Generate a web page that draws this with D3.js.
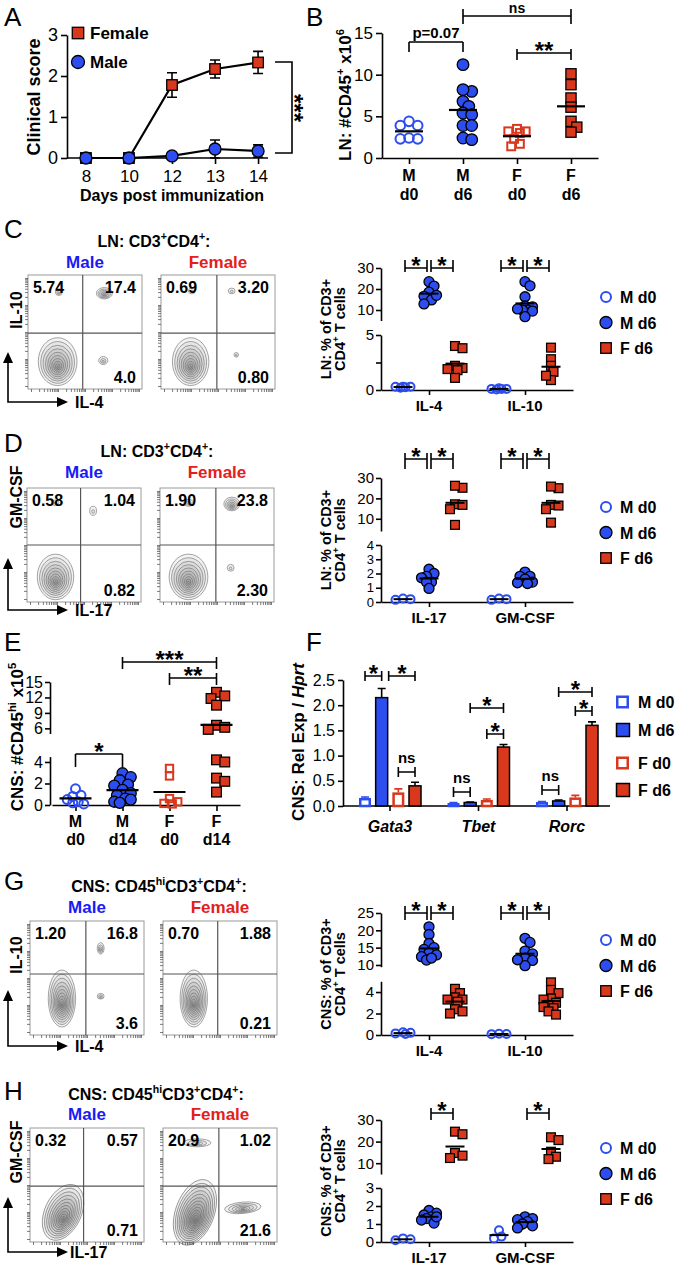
<!DOCTYPE html>
<html><head><meta charset="utf-8">
<script src="https://cdn.jsdelivr.net/npm/d3@7/dist/d3.min.js"></script>
<style>
html,body{margin:0;padding:0;background:#fff;}
svg{display:block;font-family:"Liberation Sans",Arial,Helvetica,sans-serif;}
</style></head><body>
<svg id="fig" width="680" height="1270"></svg>
<script>
// ================= DATA =================
// A: clinical score
const daysA = ["8","10","12","13","14"];
const scoreFemale = [0,0,1.78,2.17,2.33];
const errFemale   = [0,0,0.30,0.22,0.27];
const scoreMale   = [0,0,0.05,0.22,0.17];
const errMale     = [0,0,0,0.22,0.15];
const ticksA = [0,1,2,3];

// B: LN #CD45+ x10^6
const groupsB = ["M d0","M d6","F d0","F d6"];
const lnCD45_Md0 = [3.9,3.9,4.4,2.3,2.3,2.4];
const lnCD45_Md6 = [11.2,8.0,8.2,6.8,6.2,5.4,5.2,3.9,3.9,2.4,2.2];
const lnCD45_Fd0 = [3.5,3.2,3.2,2.3,1.7,1.4,3.0];
const lnCD45_Fd6 = [8.8,10.1,7.2,6.1,4.4,3.7,3.1];
const ticksB = [0,5,10,15];

// C: LN IL-4 / IL-10 (% of CD3+CD4+)
const cytoC = ["IL-4","IL-10"];
const lnTh2_Md0 = [[0.3,0.25,0.3,0.2,0.3],[0.1,0.15,0.1,0.05,0.1]];
const lnTh2_Md6 = [[23.5,21.4,18.5,16.5,14.8,12.9,17],[23.5,21.5,16.3,11.9,11.5,10,10,9.5,6.8,10.5]];
const lnTh2_Fd6 = [[4.0,3.8,2.2,2.0,1.9,1.8,1.1],[3.85,2.8,2.2,1.65,0.9,1.3]];
const flowC_male = ["5.74","17.4","4.0"];
const flowC_female = ["0.69","3.20","0.80"];

// D: LN IL-17 / GM-CSF
const cytoD = ["IL-17","GM-CSF"];
const lnTh17_Md0 = [[0.25,0.2,0.15],[0.25,0.2,0.15]];
const lnTh17_Md6 = [[2.3,2.0,1.8,1.7,1.4,1.4,0.95],[2.1,1.8,1.8,1.6,1.4,1.35,1.3]];
const lnTh17_Fd6 = [[25.2,26.2,17.1,16.8,14.7,7],[25,25.8,16.8,16.5,14.7,8.1]];
const flowD_male = ["0.58","1.04","0.82"];
const flowD_female = ["1.90","23.8","2.30"];

// E: CNS #CD45hi x10^5
const groupsE = ["M d0","M d14","F d0","F d14"];
const cnsCD45_Md0  = [1.5,0.9,0.8,0.5,0.3,0.2,0.1];
const cnsCD45_Md14 = [2.95,2.6,2.3,1.9,1.8,1.4,1.1,0.9,0.6,0.3,0.2,0.5];
const cnsCD45_Fd0  = [3.4,2.7,0.6,0.3,0.15,0.1];
const cnsCD45_Fd14 = [13,12.3,11.8,10.5,6.6,6.2,5.8,4.2,4.0,2.5,2.2,1.2];

// F: CNS relative expression / Hprt
const genesF = ["Gata3","Tbet","Rorc"];
const seriesF = ["M d0","M d6","F d0","F d6"];
const relMd0 = [0.16,0.06,0.08], errRelMd0 = [0.02,0.01,0.01];
const relMd6 = [2.15,0.07,0.10], errRelMd6 = [0.18,0.01,0.02];
const relFd0 = [0.27,0.12,0.17], errRelFd0 = [0.07,0.02,0.04];
const relFd6 = [0.40,1.17,1.60], errRelFd6 = [0.07,0.05,0.07];
const ticksF = [0,0.5,1,1.5,2,2.5];

// G: CNS IL-4 / IL-10
const cytoG = ["IL-4","IL-10"];
const cnsTh2_Md0 = [[0.2,0.15,0.25,0.1],[0.1,0.12,0.08]];
const cnsTh2_Md6 = [[21,18.8,16.2,15,14.5,13.5,12.9,12.4,11.4,12],[17.7,16.5,14,13.2,12,11.3,9.8,11.5]];
const cnsTh2_Fd6 = [[4.3,3.9,3.5,3.3,3.1,2.4,2.2,2.0,3.3],[4.9,4.2,3.9,3.4,3.3,3.0,2.8,2.6,2.5,2.2,1.9]];
const flowG_male = ["1.20","16.8","3.6"];
const flowG_female = ["0.70","1.88","0.21"];

// H: CNS IL-17 / GM-CSF
const cytoH = ["IL-17","GM-CSF"];
const cnsTh17_Md0 = [[0.15,0.1,0.2],[0.65,0.2,0.3]];
const cnsTh17_Md6 = [[1.75,1.6,1.5,1.4,1.3,1.22,1.05,1.4],[1.4,1.3,1.24,1.13,1.0,0.9,0.78]];
const cnsTh17_Fd6 = [[24.6,23.4,14.7,12.4,13.5],[22,20.7,15.3,13,11.9]];
const flowH_male = ["0.32","0.57","0.71"];
const flowH_female = ["20.9","1.02","21.6"];

// flow populations: [x, y (fraction of log axes), spread x, spread y, contour levels, tilt]
const popC_male   = [[0.26,0.24,0.17,0.21,10,0],[0.67,0.84,0.07,0.05,6,0],[0.27,0.85,0.03,0.03,3,0],[0.66,0.25,0.04,0.035,3,0]];
const popC_female = [[0.26,0.24,0.16,0.21,10,0],[0.27,0.86,0.03,0.025,2,0],[0.62,0.86,0.03,0.025,2,0],[0.66,0.30,0.02,0.02,2,0]];
const popD_male   = [[0.25,0.22,0.16,0.2,10,0],[0.25,0.87,0.03,0.025,2,0],[0.58,0.80,0.03,0.04,2,0]];
const popD_female = [[0.25,0.22,0.17,0.2,10,0],[0.25,0.87,0.04,0.03,3,0],[0.63,0.86,0.07,0.06,6,0],[0.62,0.30,0.03,0.03,2,0]];
const popG_male   = [[0.28,0.32,0.12,0.25,11,0],[0.62,0.76,0.03,0.05,4,0],[0.62,0.34,0.03,0.025,3,0]];
const popG_female = [[0.27,0.32,0.12,0.25,11,0]];
const popH_male   = [[0.29,0.26,0.16,0.26,12,25]];
const popH_female = [[0.28,0.26,0.17,0.3,14,20],[0.3,0.87,0.12,0.035,4,0],[0.7,0.30,0.16,0.05,6,-5]];

// ================= HELPERS =================
const FONT='"Liberation Sans", Arial, Helvetica, sans-serif';
const BLUE="#2c4ef0", RED="#d9381d", MALE_C="#1a1af5", FEMALE_C="#e3201b";
const svg=d3.select("#fig");

function T(g,x,y,s,o={}){
  const t=g.append("text").attr("x",x).attr("y",y).text(s)
    .attr("font-size",o.size||15).attr("font-weight",o.weight||"bold")
    .attr("text-anchor",o.anchor||"start").attr("fill",o.fill||"#000");
  if(o.italic) t.attr("font-style","italic");
  if(o.rot!=null) t.attr("transform",`rotate(${o.rot},${x},${y})`);
  return t;
}
function rich(g,x,y,parts,o={}){
  const S=o.size||15;
  const t=g.append("text").attr("x",x).attr("y",y).attr("font-size",S)
    .attr("font-weight",o.weight||"bold").attr("text-anchor",o.anchor||"middle").attr("fill",o.fill||"#000");
  if(o.rot!=null) t.attr("transform",`rotate(${o.rot},${x},${y})`);
  let cur=0;
  parts.forEach(([s,k])=>{
    const sp=t.append("tspan").text(s);
    const want = k==="sup" ? -0.42*S : 0;
    if(want!==cur) sp.attr("dy",want-cur);
    cur=want;
    if(k==="sup") sp.attr("font-size",S*0.66);
    if(k==="it") sp.attr("font-style","italic");
  });
  return t;
}
function styleAxis(a,fs){
  a.attr("font-family",FONT).attr("font-size",fs);
  a.select(".domain").attr("stroke","#000").attr("stroke-width",1.6);
  a.selectAll(".tick line").attr("stroke","#000").attr("stroke-width",1.6);
  a.selectAll(".tick text").attr("fill","#000");
}
function mark(g,type,x,y,r){
  const open=type.startsWith("open");
  const isC=type.toLowerCase().includes("circle");
  const col=isC?BLUE:RED;
  let m;
  if(isC) m=g.append("circle").attr("cx",x).attr("cy",y).attr("r",open?r-1:r);
  else { const h=open?r*0.85-1:r*0.88; m=g.append("rect").attr("x",x-h).attr("y",y-h).attr("width",2*h).attr("height",2*h); }
  m.attr("fill",open?"none":col).attr("stroke",open?col:"#000").attr("stroke-width",open?2:1.3);
}
// compact beeswarm layout: offsets limited to +-maxW, overlaps allowed when crowded
function swarm(vals,yf,r){
  const pts=vals.map(v=>({v,y:yf(v)}));
  const placed=[], maxW=r*1.5, step=r*0.5, minD=r*1.3;
  pts.slice().sort((a,b)=>a.y-b.y).forEach(p=>{
    let best=null,bestD=-1;
    for(let k=0;k<14;k++){
      const dx=(k%2?1:-1)*Math.ceil(k/2)*step;
      if(Math.abs(dx)>maxW) continue;
      const d=placed.length?d3.min(placed,q=>Math.hypot(q.dx-dx,q.y-p.y)):1e9;
      if(d>=minD){best=dx;bestD=d;break;}
      if(d>bestD){bestD=d;best=dx;}
    }
    p.dx=best||0;
    placed.push(p);
  });
  return pts;
}
function bracket(g,x1,x2,y,lab,up,down,o={}){
  g.append("path").attr("d",`M${x1},${y-up}V${y+down}M${x1},${y}H${x2}M${x2},${y-up}V${y+down}`)
    .attr("fill","none").attr("stroke","#000").attr("stroke-width",1.6);
  const cx=(x1+x2)/2;
  if(/^\*+$/.test(lab)) T(g,cx,y+(o.sy??6),lab,{size:o.ss||24,anchor:"middle"});
  else T(g,cx,y-(o.ly??(up+3)),lab,{size:o.ls||15,anchor:"middle"});
}
function brokenY(g,x,segs,fs){
  segs.forEach(s=>{
    s.sc=d3.scaleLinear().domain(s.dom).range(s.rng);
    const fmt=s.fmt?d3.format(s.fmt):(d=>d);
    const a=g.append("g").attr("transform",`translate(${x},0)`)
      .call(d3.axisLeft(s.sc).tickValues(s.ticks).tickSize(5).tickSizeOuter(0)
        .tickFormat(d=>(s.labels||s.ticks).includes(d)?fmt(d):""));
    styleAxis(a,s.fs||fs);
    a.selectAll(".tick text").attr("x",-7);
  });
  const sorted=segs.slice().sort((a,b)=>b.dom[0]-a.dom[0]);
  return v=>{for(const s of sorted) if(v>=s.dom[0]) return s.sc(v); return sorted[sorted.length-1].sc(v);};
}
function groupScatter(g,groups,dataArr,types,xs,yf,r,mw){
  groups.forEach((gr,i)=>{
    swarm(dataArr[i],yf,r).forEach(p=>mark(g,types[i],xs(gr)+p.dx,p.y,r));
  });
  groups.forEach((gr,i)=>{
    const m=yf(d3.mean(dataArr[i]));
    g.append("line").attr("x1",xs(gr)-mw).attr("x2",xs(gr)+mw).attr("y1",m).attr("y2",m).attr("stroke","#000").attr("stroke-width",2.2);
  });
}
function cytoPanel(o){
  const g=svg.append("g");
  const yf=brokenY(g,o.ax,o.segs,15);
  const xc=d3.scalePoint().domain(o.cats).range([o.ax,o.axEnd]).padding(0.5);
  const ser=["M d0","M d6","F d6"], types=["openCircle","circle","square"];
  const xo=d3.scalePoint().domain(ser).range([-26,26]);
  const xa=g.append("g").attr("transform",`translate(0,${o.base})`)
    .call(d3.axisBottom(xc).tickSize(5).tickSizeOuter(0).tickFormat(""));
  styleAxis(xa,15);
  o.cats.forEach(c=>T(g,xc(c),o.base+21,c,{size:15,anchor:"middle"}));
  o.data.forEach((arr,si)=>o.cats.forEach((c,ci)=>{
    const cx=xc(c)+xo(ser[si]);
    swarm(arr[ci],yf,5).forEach(p=>mark(g,types[si],cx+p.dx,p.y,5));
  }));
  o.data.forEach((arr,si)=>o.cats.forEach((c,ci)=>{
    const cx=xc(c)+xo(ser[si]), m=yf(d3.mean(arr[ci]));
    g.append("line").attr("x1",cx-9.5).attr("x2",cx+9.5).attr("y1",m).attr("y2",m).attr("stroke","#000").attr("stroke-width",2);
  }));
  o.brackets.forEach(([ci,a,b,lab])=>{
    const c=o.cats[ci];
    bracket(g,xc(c)+xo(ser[a])+2,xc(c)+xo(ser[b])-2,o.bY,lab,o.bUp,o.bDown);
  });
  ser.forEach((s,i)=>{
    const yy=o.legY+i*25.5;
    mark(g,types[i],606,yy,6);
    T(g,620,yy+6,s,{size:16});
  });
  const mid=(o.segs[0].rng[0]+o.segs[o.segs.length-1].rng[1])/2;
  rich(g,331,mid,o.title1,{size:14.5,rot:-90});
  rich(g,345,mid,o.title2,{size:14.5,rot:-90});
}
function flowPlot(g,x0,y0,nums,pops,qx,qy){
  const w=114,h=114;
  const sx=d3.scaleLinear().domain([0,1]).range([x0,x0+w]);
  const sy=d3.scaleLinear().domain([0,1]).range([y0+h,y0]);
  g.append("rect").attr("x",x0).attr("y",y0).attr("width",w).attr("height",h).attr("fill","#fff");
  pops.forEach(([cx,cy,rx,ry,n,rot])=>{
    d3.range(n,0,-1).forEach(k=>{
      const f=Math.pow(k/n,1.3);
      const px=sx(cx), py=sy(cy-ry*(1-f)*0.25);
      g.append("ellipse").attr("cx",px).attr("cy",py).attr("rx",rx*w*f).attr("ry",ry*h*f)
        .attr("transform",rot?`rotate(${rot},${px},${py})`:null)
        .attr("fill","#5a5a5a").attr("fill-opacity",0.08).attr("stroke","#6a6a6a").attr("stroke-width",0.6);
    });
  });
  g.append("rect").attr("x",x0).attr("y",y0).attr("width",w).attr("height",h).attr("fill","none").attr("stroke","#9a9a9a").attr("stroke-width",1);
  g.append("line").attr("x1",sx(qx)).attr("x2",sx(qx)).attr("y1",y0).attr("y2",y0+h).attr("stroke","#555").attr("stroke-width",1.2);
  g.append("line").attr("x1",x0).attr("x2",x0+w).attr("y1",sy(qy)).attr("y2",sy(qy)).attr("stroke","#555").attr("stroke-width",1.2);
  const lx=d3.scaleLog().domain([10,1e5]).range([x0+3,x0+w-3]);
  const ly=d3.scaleLog().domain([10,1e5]).range([y0+h-3,y0+3]);
  const bx=g.append("g").attr("transform",`translate(0,${y0+h})`).call(d3.axisBottom(lx).tickSize(3).tickFormat(""));
  bx.select(".domain").remove(); bx.selectAll("line").attr("stroke","#444").attr("stroke-width",0.7);
  const by=g.append("g").attr("transform",`translate(${x0},0)`).call(d3.axisLeft(ly).tickSize(3).tickFormat(""));
  by.select(".domain").remove(); by.selectAll("line").attr("stroke","#444").attr("stroke-width",0.7);
  T(g,x0+5,y0+18,nums[0],{size:16});
  T(g,x0+w-6,y0+18,nums[1],{size:16,anchor:"end"});
  T(g,x0+w-6,y0+h-6,nums[2],{size:16,anchor:"end"});
}
function flowArrows(g,xv,yh,tipY,tipX,xlab,xlabX,xlabY,ylab,ylabY){
  g.append("path").attr("d",`M${xv},${tipY+8}V${yh}H${tipX-8}`).attr("fill","none").attr("stroke","#000").attr("stroke-width",1.6);
  g.append("path").attr("d",`M${xv},${tipY}l-5,11h10z`).attr("fill","#000");
  g.append("path").attr("d",`M${tipX},${yh}l-11,-5v10z`).attr("fill","#000");
  T(g,xlabX,xlabY,xlab,{size:16});
  T(g,22,ylabY,ylab,{size:16,rot:-90,anchor:"middle"});
}
function flowBlock(o){
  const g=svg.append("g");
  rich(g,o.tx,o.ty,o.title,{size:16});
  T(g,o.mx+57,o.ly,"Male",{size:17,anchor:"middle",fill:MALE_C});
  T(g,o.fx+57,o.ly,"Female",{size:17,anchor:"middle",fill:FEMALE_C});
  flowPlot(g,o.mx,o.y0,o.mnums,o.mpops,o.mq[0],o.mq[1]);
  flowPlot(g,o.fx,o.y0,o.fnums,o.fpops,o.fq[0],o.fq[1]);
  flowArrows(g,8,o.ay,o.tipY,68,o.xlab,o.xlabX,o.ay+6,o.ylab,o.ylabY);
}
function letter(x,y,s){T(svg,x,y,s,{size:26,weight:"normal"});}

// ================= PANEL A =================
(function(){
  const g=svg.append("g");
  const x=d3.scalePoint().domain(daysA).range([67,277]).padding(0.44);
  const y=d3.scaleLinear().domain([0,3]).range([158,35]);
  const ya=g.append("g").attr("transform","translate(67,0)")
    .call(d3.axisLeft(y).tickValues(ticksA).tickSize(6).tickSizeOuter(0).tickFormat(d3.format("d")));
  styleAxis(ya,18);
  const xa=g.append("g").attr("transform","translate(0,158)").call(d3.axisBottom(x).tickSize(6).tickSizeOuter(0));
  styleAxis(xa,17);
  xa.select(".domain").remove();
  xa.selectAll(".tick text").attr("dy","0.9em");
  g.append("line").attr("x1",67).attr("x2",268).attr("y1",158).attr("y2",158).attr("stroke","#000").attr("stroke-width",1.6);
  const line=d3.line().x((d,i)=>x(daysA[i])).y(d=>y(d));
  const sets=[[scoreFemale,errFemale,"square"],[scoreMale,errMale,"circle"]];
  sets.forEach(([v])=>g.append("path").attr("d",line(v)).attr("fill","none").attr("stroke","#000").attr("stroke-width",2.2));
  sets.forEach(([v,e])=>v.forEach((d,i)=>{
    if(e[i]>0){
      const xx=x(daysA[i]), y1=y(Math.max(0,d-e[i])), y2=y(d+e[i]);
      g.append("path").attr("d",`M${xx},${y1}V${y2}M${xx-5},${y2}H${xx+5}M${xx-5},${y1}H${xx+5}`).attr("stroke","#000").attr("stroke-width",1.6).attr("fill","none");
    }
  }));
  sets.forEach(([v,,t])=>v.forEach((d,i)=>mark(g,t,x(daysA[i]),y(d),6)));
  mark(g,"square",78,33,6.5); T(g,90,39,"Female",{size:17});
  mark(g,"circle",78,62,6.5); T(g,90,68,"Male",{size:17});
  g.append("path").attr("d","M275,62H292V153H275").attr("fill","none").attr("stroke","#000").attr("stroke-width",1.6);
  T(g,286,108,"***",{size:24,anchor:"middle",rot:90});
  rich(g,40,97,[["Clinical score",""]],{size:18,rot:-90});
  T(g,172,201,"Days post immunization",{size:16,anchor:"middle"});
  letter(4,26,"A");
})();

// ================= PANEL B =================
(function(){
  const g=svg.append("g");
  const x=d3.scalePoint().domain(groupsB).range([382,598]).padding(0.5);
  const y=d3.scaleLinear().domain([0,15]).range([158,33]);
  const ya=g.append("g").attr("transform","translate(382,0)").call(d3.axisLeft(y).tickValues(ticksB).tickSize(6).tickSizeOuter(0));
  styleAxis(ya,17);
  const xa=g.append("g").attr("transform","translate(0,158)").call(d3.axisBottom(x).tickSize(6).tickSizeOuter(0).tickFormat(""));
  styleAxis(xa,16);
  groupsB.forEach(gr=>{const [a,b]=gr.split(" ");T(g,x(gr),181,a,{size:16,anchor:"middle"});T(g,x(gr),200,b,{size:16,anchor:"middle"});});
  groupScatter(g,groupsB,[lnCD45_Md0,lnCD45_Md6,lnCD45_Fd0,lnCD45_Fd6],["openCircle","circle","openSquare","square"],x,y,5.8,14);
  bracket(g,x("M d0"),x("M d6"),42,"p=0.07",0,10,{ly:4});
  bracket(g,x("M d6"),x("F d6"),16,"ns",7,8,{ly:3,ls:14});
  bracket(g,x("F d0"),x("F d6"),53,"**",4,7);
  rich(g,351,95,[["LN: #CD45",""],["+","sup"],[" x10",""],["6","sup"]],{size:17,rot:-90});
  letter(306,26,"B");
})();

// ================= PANEL C =================
letter(4,238,"C");
flowBlock({tx:154,ty:247,title:[["LN: CD3",""],["+","sup"],["CD4",""],["+","sup"],[":",""]],ly:268,
  mx:28,fx:161,y0:275,mnums:flowC_male,fnums:flowC_female,mpops:popC_male,fpops:popC_female,mq:[0.48,0.49],fq:[0.49,0.49],
  ay:402,tipY:352,xlab:"IL-4",xlabX:75,ylab:"IL-10",ylabY:310});
cytoPanel({ax:381,axEnd:573,base:390,cats:cytoC,data:[lnTh2_Md0,lnTh2_Md6,lnTh2_Fd6],
  segs:[{dom:[0,5],rng:[390,335],ticks:[0,2.5,5],labels:[0,5]},{dom:[5,30],rng:[320.5,268],ticks:[10,20,30]}],
  brackets:[[0,0,1,"*"],[0,1,2,"*"],[1,0,1,"*"],[1,1,2,"*"]],bY:268,bUp:8,bDown:4,legY:297,
  title1:[["LN: % of CD3+",""]],title2:[["CD4",""],["+","sup"],[" T cells",""]]});

// ================= PANEL D =================
letter(4,452,"D");
flowBlock({tx:157,ty:457,title:[["LN: CD3",""],["+","sup"],["CD4",""],["+","sup"],[":",""]],ly:478,
  mx:27,fx:160,y0:488,mnums:flowD_male,fnums:flowD_female,mpops:popD_male,fpops:popD_female,mq:[0.47,0.5],fq:[0.49,0.5],
  ay:610,tipY:558,xlab:"IL-17",xlabX:75,ylab:"GM-CSF",ylabY:497});
cytoPanel({ax:381,axEnd:573,base:602,cats:cytoD,data:[lnTh17_Md0,lnTh17_Md6,lnTh17_Fd6],
  segs:[{dom:[0,4],rng:[602,545],ticks:[0,1,2,3,4],fs:13},{dom:[4,30],rng:[531,478],ticks:[10,20,30]}],
  brackets:[[0,0,1,"*"],[0,1,2,"*"],[1,0,1,"*"],[1,1,2,"*"]],bY:459,bUp:6,bDown:10,legY:507,
  title1:[["LN: % of CD3+",""]],title2:[["CD4",""],["+","sup"],[" T cells",""]]});

// ================= PANEL E =================
(function(){
  const g=svg.append("g");
  const segsE=[{dom:[0,4.5],rng:[805,756.6],ticks:[0,2,4]},{dom:[5,15],rng:[733.5,682],ticks:[6,9,12,15]}];
  const yf=brokenY(g,50,segsE,16);
  const x=d3.scalePoint().domain(groupsE).range([52,240]).padding(0.5);
  const xa=g.append("g").attr("transform","translate(0,805)").call(d3.axisBottom(x).tickSize(6).tickSizeOuter(0).tickFormat(""));
  styleAxis(xa,16);
  groupsE.forEach(gr=>{const [a,b]=gr.split(" ");T(g,x(gr),827,a,{size:16,anchor:"middle"});T(g,x(gr),845,b,{size:16,anchor:"middle"});});
  groupScatter(g,groupsE,[cnsCD45_Md0,cnsCD45_Md14,cnsCD45_Fd0,cnsCD45_Fd14],["openCircle","circle","openSquare","square"],x,yf,5.5,16);
  bracket(g,x("M d0"),x("M d14"),754,"*",0,13);
  bracket(g,x("M d14"),x("F d14"),662,"***",5,7);
  bracket(g,x("F d0"),x("F d14"),678,"**",5,7);
  rich(g,23,737,[["CNS: #CD45",""],["hi","sup"],[" x10",""],["5","sup"]],{size:17,rot:-90});
  letter(4,651,"E");
})();

// ================= PANEL F =================
(function(){
  const g=svg.append("g");
  const xg=d3.scalePoint().domain(genesF).range([390,567]);
  const xo=d3.scalePoint().domain(seriesF).range([-25,25]);
  const y=d3.scaleLinear().domain([0,2.5]).range([806,680]);
  const ya=g.append("g").attr("transform","translate(343,0)").call(d3.axisLeft(y).tickValues(ticksF).tickSize(5).tickSizeOuter(0).tickFormat(d3.format(".1f")));
  styleAxis(ya,16);
  g.append("line").attr("x1",343).attr("x2",610).attr("y1",806).attr("y2",806).attr("stroke","#000").attr("stroke-width",1.6);
  genesF.forEach(gn=>{
    g.append("line").attr("x1",xg(gn)).attr("x2",xg(gn)).attr("y1",806).attr("y2",811).attr("stroke","#000").attr("stroke-width",1.6);
    T(g,xg(gn),832,gn,{size:16,anchor:"middle",italic:true});
  });
  const vals=[relMd0,relMd6,relFd0,relFd6], errs=[errRelMd0,errRelMd6,errRelFd0,errRelFd6];
  const sty=[{f:"#fff",s:BLUE,o:true},{f:BLUE,s:"#000"},{f:"#fff",s:RED,o:true},{f:RED,s:"#000"}];
  seriesF.forEach((s,si)=>genesF.forEach((gn,gi)=>{
    const cx=xg(gn)+xo(s), v=vals[si][gi], e=errs[si][gi], st=sty[si];
    const yt=y(v), ye=y(v+e);
    g.append("path").attr("d",`M${cx},${yt}V${ye}M${cx-4},${ye}H${cx+4}`).attr("stroke",st.o?st.s:"#000").attr("stroke-width",1.6).attr("fill","none");
    if(st.o) g.append("rect").attr("x",cx-4.75).attr("y",yt+1.25).attr("width",9.5).attr("height",Math.max(0,806-yt-1.25)).attr("fill","#fff").attr("stroke",st.s).attr("stroke-width",2.5);
    else g.append("rect").attr("x",cx-6).attr("y",yt).attr("width",12).attr("height",806-yt).attr("fill",st.f).attr("stroke","#000").attr("stroke-width",1.5);
  }));
  const bx=(gn,s)=>xg(gn)+xo(s);
  const br=[["Gata3",0,1,676,"*",0,0],["Gata3",1,3,676,"*",7,0],["Gata3",2,3,772,"ns",0,0],
            ["Tbet",1,3,708,"*",0,0],["Tbet",2,3,734,"*",0,0],["Tbet",0,1,792,"ns",0,0],
            ["Rorc",1,3,692,"*",0,0],["Rorc",2,3,711,"*",0,0],["Rorc",0,1,790,"ns",0,0]];
  br.forEach(([gn,a,b,yy,lab,dx])=>bracket(g,bx(gn,seriesF[a])+dx,bx(gn,seriesF[b]),yy,lab,5,5,{ly:9}));
  seriesF.forEach((s,i)=>{
    const yy=[702,730,763,790][i], st=sty[i];
    if(st.o) g.append("rect").attr("x",617.25).attr("y",yy-5.25).attr("width",10.5).attr("height",10.5).attr("fill","#fff").attr("stroke",st.s).attr("stroke-width",2.5);
    else g.append("rect").attr("x",616.5).attr("y",yy-6.5).attr("width",13).attr("height",13).attr("fill",st.f).attr("stroke","#000").attr("stroke-width",1.5);
    T(g,638,yy+6,s,{size:16});
  });
  rich(g,304,742,[["CNS: Rel Exp / ",""],["Hprt","it"]],{size:17,rot:-90});
  letter(306,651,"F");
})();

// ================= PANEL G =================
letter(4,890,"G");
flowBlock({tx:159,ty:892,title:[["CNS: CD45",""],["hi","sup"],["CD3",""],["+","sup"],["CD4",""],["+","sup"],[":",""]],ly:913,
  mx:30,fx:163,y0:921,mnums:flowG_male,fnums:flowG_female,mpops:popG_male,fpops:popG_female,mq:[0.49,0.535],fq:[0.48,0.535],
  ay:1046,tipY:990,xlab:"IL-4",xlabX:75,ylab:"IL-10",ylabY:955});
cytoPanel({ax:381,axEnd:573,base:1035,cats:cytoG,data:[cnsTh2_Md0,cnsTh2_Md6,cnsTh2_Fd6],
  segs:[{dom:[0,5],rng:[1035,981.3],ticks:[0,2,4]},{dom:[9.5,25],rng:[966.7,913],ticks:[10,15,20,25]}],
  brackets:[[0,0,1,"*"],[0,1,2,"*"],[1,0,1,"*"],[1,1,2,"*"]],bY:913,bUp:7,bDown:7,legY:940,
  title1:[["CNS: % of CD3+",""]],title2:[["CD4",""],["+","sup"],[" T cells",""]]});

// ================= PANEL H =================
letter(4,1100,"H");
flowBlock({tx:156,ty:1100,title:[["CNS: CD45",""],["hi","sup"],["CD3",""],["+","sup"],["CD4",""],["+","sup"],[":",""]],ly:1120,
  mx:30,fx:163,y0:1128,mnums:flowH_male,fnums:flowH_female,mpops:popH_male,fpops:popH_female,mq:[0.47,0.49],fq:[0.49,0.49],
  ay:1252,tipY:1197,xlab:"IL-17",xlabX:70,ylab:"GM-CSF",ylabY:1152});
cytoPanel({ax:381,axEnd:573,base:1242,cats:cytoH,data:[cnsTh17_Md0,cnsTh17_Md6,cnsTh17_Fd6],
  segs:[{dom:[0,3],rng:[1242,1188],ticks:[0,1,2,3]},{dom:[5,30],rng:[1174,1120],ticks:[10,20,30]}],
  brackets:[[0,1,2,"*"],[1,1,2,"*"]],bY:1113,bUp:5,bDown:7,legY:1148,
  title1:[["CNS: % of CD3+",""]],title2:[["CD4",""],["+","sup"],[" T cells",""]]});
</script></body></html>
